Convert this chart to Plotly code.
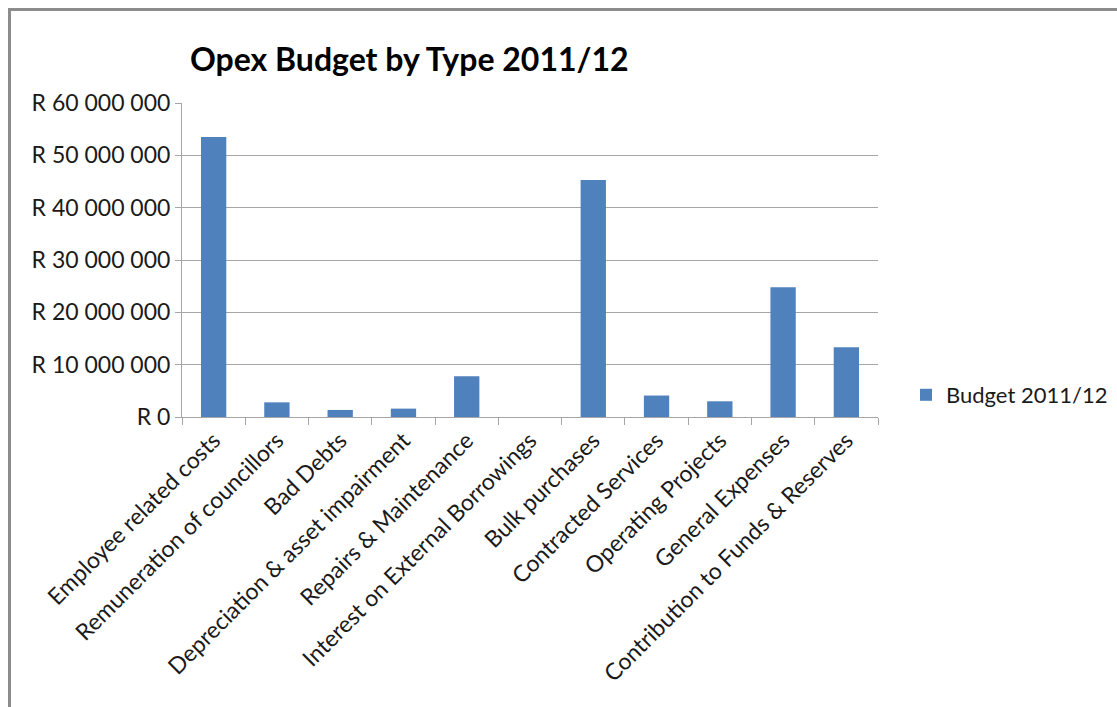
import plotly.graph_objects as go

categories = [
    "Employee related costs",
    "Remuneration of councillors",
    "Bad Debts",
    "Depreciation & asset impairment",
    "Repairs & Maintenance",
    "Interest on External Borrowings",
    "Bulk purchases",
    "Contracted Services",
    "Operating Projects",
    "General Expenses",
    "Contribution to Funds & Reserves",
]
budget_2011_12 = [
    53500000, 2800000, 1350000, 1600000, 7800000, 0,
    45300000, 4100000, 3000000, 24800000, 13350000,
]
y_tick_values = [0, 10000000, 20000000, 30000000, 40000000, 50000000, 60000000]
y_tick_labels = ["R 0", "R 10 000 000", "R 20 000 000", "R 30 000 000",
                 "R 40 000 000", "R 50 000 000", "R 60 000 000"]

FONT = "Lato"
GRID = "#a6a6a6"
L, R, T, B = 182, 1117 - 878, 103, 707 - 417
PW, PH = 1117 - L - R, 707 - T - B

def px_x(px):
    return (px - L) / PW

def px_y(py):
    return (707 - B - py) / PH

fig = go.Figure()
fig.add_trace(go.Bar(
    x=categories,
    y=budget_2011_12,
    name="Budget 2011/12",
    marker=dict(color="#4f81bd", line=dict(width=0)),
    showlegend=True,
))

fig.update_layout(
    width=1117,
    height=707,
    margin=dict(l=L, r=R, t=T, b=B, autoexpand=False),
    paper_bgcolor="white",
    plot_bgcolor="white",
    bargap=0.6,
    font=dict(family=FONT, color="#1a1a1a", size=22),
    title=dict(
        text="<b>Opex Budget by Type 2011/12</b>",
        x=190 / 1117, xanchor="left", xref="container",
        y=1 - 60 / 707, yanchor="middle", yref="container",
        font=dict(family=FONT, size=32, color="#000000"),
    ),
    xaxis=dict(
        type="category",
        tickangle=-45,
        showgrid=False,
        showline=True,
        linecolor=GRID,
        linewidth=1,
        ticks="outside",
        tickson="boundaries",
        ticklen=7,
        tickcolor=GRID,
        tickfont=dict(family=FONT, size=23, color="#1a1a1a"),
        range=[-0.5, len(categories) - 0.5],
    ),
    yaxis=dict(
        range=[0, 60000000],
        tickvals=y_tick_values,
        ticktext=y_tick_labels,
        showgrid=True,
        gridcolor=GRID,
        gridwidth=1,
        showline=True,
        linecolor=GRID,
        linewidth=1,
        ticks="outside",
        ticklen=6,
        tickcolor=GRID,
        zeroline=False,
        tickfont=dict(family=FONT, size=23, color="#1a1a1a"),
    ),
    legend=dict(
        x=px_x(906), xanchor="left",
        y=px_y(395), yanchor="middle",
        font=dict(family=FONT, size=22, color="#1a1a1a"),
        bgcolor="rgba(0,0,0,0)",
    ),
    shapes=[
        dict(type="rect", xref="paper", yref="paper",
             x0=px_x(9.5), x1=px_x(1140), y0=px_y(730), y1=px_y(9.5),
             line=dict(color="#8c8c8c", width=3), fillcolor="rgba(0,0,0,0)",
             layer="below"),
    ],
)

fig.write_html("out.html")
